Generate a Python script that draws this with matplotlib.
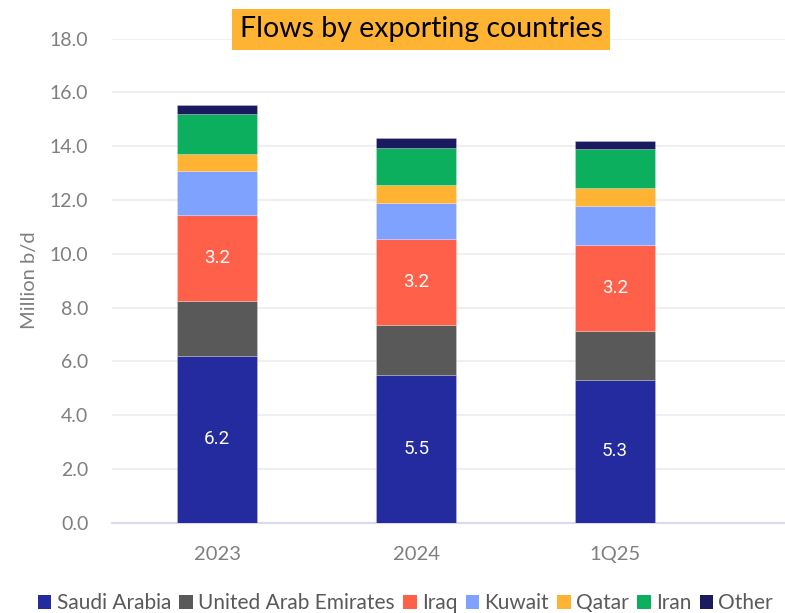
import matplotlib.pyplot as plt
from matplotlib.patches import Patch

# crude exports by origin, million barrels per day
periods = ['2023', '2024', '1Q25']
countries = ['Saudi Arabia', 'United Arab Emirates', 'Iraq', 'Kuwait', 'Qatar', 'Iran', 'Other']
saudi = [6.2, 5.5, 5.3]
uae = [2.05, 1.86, 1.84]
iraq = [3.2, 3.2, 3.2]
kuwait = [1.62, 1.32, 1.43]
qatar = [0.65, 0.68, 0.66]
iran = [1.49, 1.37, 1.48]
other = [0.33, 0.37, 0.29]
labelled = ['Saudi Arabia', 'Iraq']  # segments that carry a value label

colors = ['#232B9E', '#595959', '#FF604A', '#7FA1FF', '#FFB333', '#0BAF5D', '#1A1A5E']
series = [saudi, uae, iraq, kuwait, qatar, iran, other]

plt.rcParams['font.family'] = ['Lato', 'DejaVu Sans']

fig = plt.figure(figsize=(7.85, 6.13), dpi=100)
ax = fig.add_axes([112 / 785, (613 - 522.7) / 613, 1 - 112 / 785, (522.7 - 38.7) / 613])

x = list(range(len(periods)))
bottom = [0.0] * len(periods)
for name, vals, col in zip(countries, series, colors):
    ax.bar(x, vals, width=0.402, bottom=bottom, color=col, label=name, zorder=3,
           edgecolor=(1, 1, 1, 0.25), linewidth=0.6)
    if name in labelled:
        for i, v in enumerate(vals):
            ax.text(x[i], bottom[i] + v / 2, f'{v:.1f}', ha='center', va='center',
                    color='white', fontsize=13.5, family=['Roboto', 'DejaVu Sans'], zorder=4)
    bottom = [b + v for b, v in zip(bottom, vals)]

ax.set_ylim(0, 18)
ax.set_xlim(-0.528, 2.854)
ax.set_yticks([i * 2 for i in range(10)])
ax.set_yticklabels([f'{i * 2:.1f}' for i in range(10)])
ax.set_xticks(x)
ax.set_xticklabels(periods)
ax.tick_params(axis='y', length=0, pad=17, labelsize=14, labelcolor='#7F7F7F')
ax.tick_params(axis='x', length=0, pad=17, labelsize=14.5, labelcolor='#7F7F7F')
ax.grid(axis='y', color='#EFEFEF', linewidth=1.5, zorder=0)
for side in ['top', 'right', 'left']:
    ax.spines[side].set_visible(False)
ax.spines['bottom'].set_color('#D9D9F0')
ax.spines['bottom'].set_linewidth(1.5)

fig.text(30 / 785, 1 - 280 / 613, 'Million b/d', rotation=90, ha='center', va='center',
         fontsize=14.5, color='#7F7F7F')

fig.text(421 / 785, 1 - 29.5 / 613, 'Flows by exporting countries', ha='center', va='center',
         fontsize=20.5, color='black',
         bbox=dict(boxstyle='square,pad=0.26', facecolor='#FFB333', edgecolor='none'))

handles = [Patch(facecolor=c, edgecolor='none') for c in colors]
fig.legend(handles, countries, loc='center', bbox_to_anchor=(405.5 / 785, 1 - 603 / 613),
           ncol=7, frameon=False, fontsize=15, labelcolor='#595959',
           handlelength=0.65, handleheight=0.65, handletextpad=0.25, columnspacing=0.4,
           borderpad=0, borderaxespad=0)

fig.savefig('out.png', dpi=100)
